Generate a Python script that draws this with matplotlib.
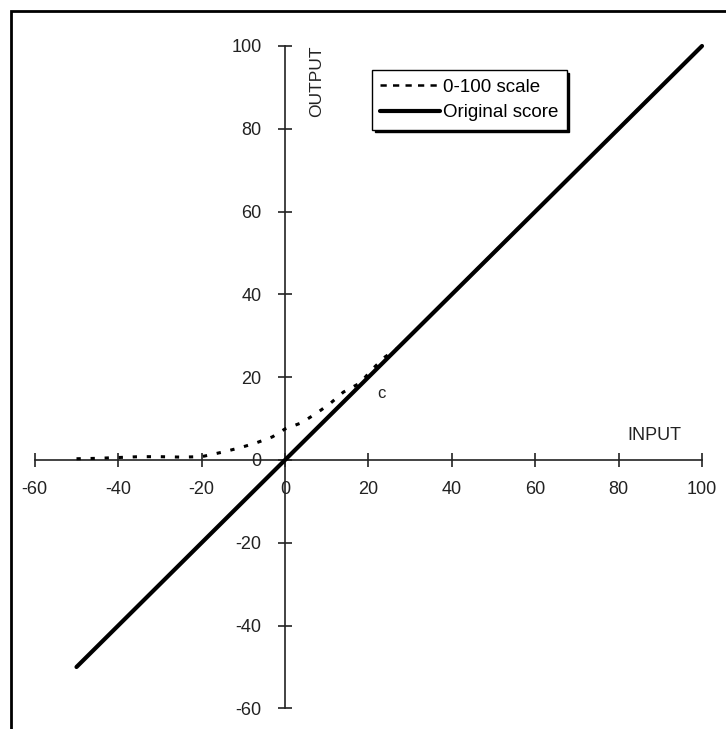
import matplotlib
matplotlib.use("Agg")
import matplotlib.pyplot as plt
from matplotlib.patches import Rectangle

plt.rcParams['font.family'] = ['Liberation Sans', 'DejaVu Sans']

# Original score: identity mapping input -> output
orig_x = [-50, -40, -30, -20, -10, 0, 10, 20, 30, 40, 60, 80, 100]
orig_y = [-50, -40, -30, -20, -10, 0, 10, 20, 30, 40, 60, 80, 100]

# 0-100 scale: rescaled score, flattening towards 0 for negative inputs
scale_x = [-50, -45, -40, -35, -30, -25, -20, -15, -11, -7, -3, 0, 4, 8,
           11, 14, 18, 21, 24, 27, 30, 40, 60, 80, 100]
scale_y = [0.3, 0.4, 0.6, 0.8, 0.8, 0.7, 0.8, 1.9, 2.9, 4.1, 5.6, 7.5, 9.0,
           11.6, 13.8, 16.4, 18.6, 22.0, 24.9, 27.0, 30, 40, 60, 80, 100]

x_ticks = [-60, -40, -20, 0, 20, 40, 60, 80, 100]
y_ticks = [-60, -40, -20, 0, 20, 40, 60, 80, 100]

W, H = 726, 729
fig = plt.figure(figsize=(W / 100, H / 100), dpi=100)
ax = fig.add_axes([0, 0, 1, 1])

# pixel placement of the data origin and scale
x0_px, y0_px = 285, 460
sx, sy = 4.17, 4.14
ax.set_xlim(-x0_px / sx, (W - x0_px) / sx)
ax.set_ylim(-(H - y0_px) / sy, y0_px / sy)

ax.plot(scale_x, scale_y, color='black', lw=2.2, linestyle=(0, (1.4, 3.2)),
        label='0-100 scale', zorder=3)
ax.plot(orig_x, orig_y, color='black', lw=3.0, solid_capstyle='round',
        label='Original score', zorder=4)

axis_col = '#222222'
for side in ('top', 'right'):
    ax.spines[side].set_visible(False)
for side in ('left', 'bottom'):
    ax.spines[side].set_position(('data', 0))
    ax.spines[side].set_color(axis_col)
    ax.spines[side].set_linewidth(1.2)
ax.spines['bottom'].set_bounds(-60, 100)
ax.spines['left'].set_bounds(-60, 100)

ax.set_xticks(x_ticks)
ax.set_yticks(y_ticks)
ax.set_xticklabels([str(v) for v in x_ticks])
ax.set_yticklabels([str(v) for v in y_ticks])
ax.tick_params(axis='both', direction='inout', length=10, width=1.2,
               color=axis_col, labelsize=13, labelcolor='#222222')
ax.tick_params(axis='x', pad=10)
ax.tick_params(axis='y', pad=12)

# free labels placed in pixel coordinates measured from the top-left
labels = [
    (317, 81, 'OUTPUT', 90, 12.5),
    (654, 435, 'INPUT', 0, 13),
    (381, 393, 'c', 0, 12),
]
for px, py, s, rot, fs in labels:
    ax.text(px, H - py, s, transform=None, rotation=rot, ha='center',
            va='center', fontsize=fs, color='#222222')

leg = ax.legend(loc='upper left', bbox_to_anchor=(372 / W, 1 - 70 / H),
                bbox_transform=fig.transFigure, fontsize=13.5,
                frameon=True, fancybox=False, framealpha=1,
                edgecolor='black', handlelength=3.2, handletextpad=0.12,
                borderpad=0.45, labelspacing=0.45, borderaxespad=0,
                shadow={'color': 'black', 'alpha': 1})
leg.get_frame().set_linewidth(1.0)
for line in leg.get_lines():
    if line.get_label() == '0-100 scale':
        line.set_linestyle((0, (2.5, 2.5)))
        line.set_linewidth(1.8)

# outer frame around the chart
fig.patches.append(Rectangle((11 / W, -0.1), 1.2, 1 - 11 / H + 0.1,
                             transform=fig.transFigure, fill=False,
                             edgecolor='black', linewidth=2.0))

fig.savefig('out.png', dpi=100)
